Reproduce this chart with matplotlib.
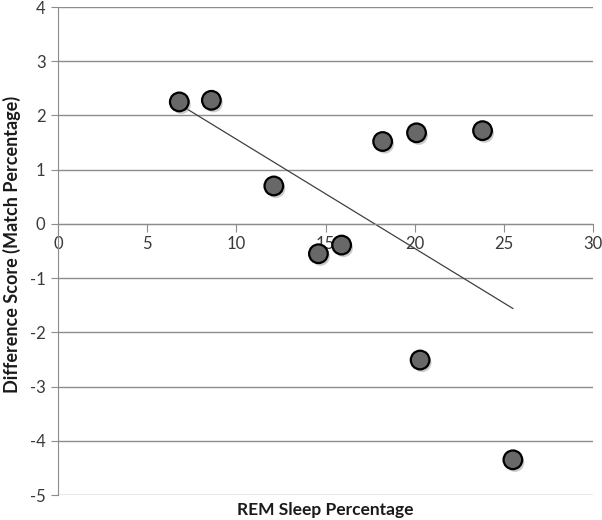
import numpy as np
import matplotlib.pyplot as plt
import matplotlib.patheffects as pe

# REM sleep % vs. difference score
rem_pct = [6.8, 8.6, 12.1, 14.6, 15.9, 18.2, 20.1, 20.3, 23.8, 25.5]
diff_score = [2.25, 2.28, 0.70, -0.55, -0.39, 1.52, 1.68, -2.51, 1.72, -4.35]
x_ticks = [0, 5, 10, 15, 20, 25, 30]
y_ticks = [-5, -4, -3, -2, -1, 0, 1, 2, 3, 4]

plt.rcParams['font.family'] = ['Lato', 'DejaVu Sans']
plt.rcParams['axes.unicode_minus'] = False

fig = plt.figure(figsize=(6.02, 5.20), dpi=100)
ax = fig.add_axes([0.0963, 0.048, 0.889, 0.9385])

grid_col = '#8c8c8c'
for y in y_ticks:
    ax.axhline(y, color=grid_col, lw=1.0, zorder=1)

# linear trendline
slope, icpt = np.polyfit(rem_pct, diff_score, 1)
xs = np.array([min(rem_pct), max(rem_pct)])
ax.plot(xs, slope * xs + icpt, color='#404040', lw=0.9, zorder=2)

# points with a small drop shadow
ax.scatter(rem_pct, diff_score, s=180, color='#686868', edgecolors='black',
           linewidths=1.6, zorder=3,
           path_effects=[pe.SimplePatchShadow(offset=(1.5, -2), shadow_rgbFace='#999999', alpha=0.5), pe.Normal()])

ax.set_xlim(0, 30)
ax.set_ylim(-5, 4)
ax.set_xticks(x_ticks)
ax.set_yticks(y_ticks)

for s in ['top', 'right']:
    ax.spines[s].set_visible(False)
ax.spines['left'].set_color(grid_col)
ax.spines['bottom'].set_position(('data', 0))
ax.spines['bottom'].set_color(grid_col)

ax.tick_params(axis='x', direction='out', length=6, color=grid_col, labelsize=12, labelcolor='#3a3a3a', pad=3)
ax.tick_params(axis='y', direction='out', length=5, color=grid_col, labelsize=12, labelcolor='#3a3a3a', pad=4)

fig.text(0.54, 0.003, 'REM Sleep Percentage', ha='center', va='bottom',
         fontsize=12.5, fontweight='bold', color='#1a1a1a')
fig.text(0.004, 0.53, 'Difference Score (Match Percentage)', ha='left', va='center',
         rotation=90, fontsize=13, fontweight='bold', color='#1a1a1a')

fig.savefig('out.png', dpi=100)
